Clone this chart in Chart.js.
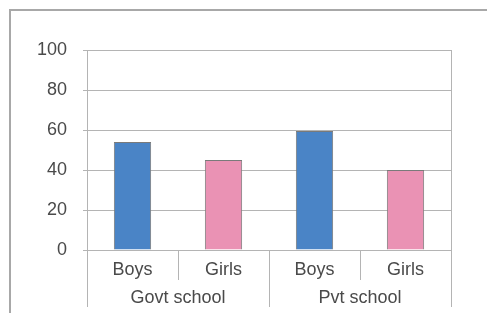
<!DOCTYPE html>
<html lang="en">
<head>
<meta charset="UTF-8">
<title>Boys and Girls by school</title>
<script src="https://cdn.jsdelivr.net/npm/chart.js"></script>
<style>
  html, body { margin: 0; padding: 0; background: #fff; }
  #wrap { position: relative; width: 487px; height: 313px; }
  #frame {
    position: absolute; left: 9px; top: 9px; width: 500px; height: 320px;
    border-left: 2px solid #a8a8a8; border-top: 2px solid #a8a8a8;
  }
  canvas { position: absolute; left: 0; top: 0; }
</style>
</head>
<body>
<div id="wrap">
  <div id="frame"></div>
  <canvas id="chart" width="487" height="313"></canvas>
</div>
<script>
// data
const categories = ['Boys', 'Girls', 'Boys', 'Girls'];
const groups = ['Govt school', 'Pvt school'];
const values = [54, 45, 59.5, 40];
const barColors = ['#4a84c6', '#ea92b4', '#4a84c6', '#ea92b4'];
const yTicks = [0, 20, 40, 60, 80, 100];

const lineColor = '#b4b4b4';
const textColor = '#4a4a4a';
const fontFamily = '"Liberation Sans", Arial, sans-serif';

// draws the right edge, category separators and the group row
const groupAxis = {
  id: 'groupAxis',
  afterDraw(chart) {
    const ctx = chart.ctx;
    const area = chart.chartArea;
    const x = chart.scales.x;
    const half = (x.getPixelForValue(1) - x.getPixelForValue(0)) / 2;
    const per = categories.length / groups.length;
    ctx.save();
    ctx.strokeStyle = lineColor;
    ctx.lineWidth = 1;
    ctx.beginPath();
    ctx.moveTo(Math.round(area.right) + 0.5, area.top);
    ctx.lineTo(Math.round(area.right) + 0.5, area.bottom);
    for (let i = 0; i <= categories.length; i++) {
      const px = Math.round(x.getPixelForValue(i) - half) + 0.5;
      const len = i % per === 0 ? 57 : 30;
      ctx.moveTo(px, area.bottom);
      ctx.lineTo(px, area.bottom + len);
    }
    ctx.stroke();
    ctx.fillStyle = textColor;
    ctx.font = '18px ' + fontFamily;
    ctx.textAlign = 'center';
    ctx.textBaseline = 'middle';
    groups.forEach((g, gi) => {
      const a = x.getPixelForValue(gi * per) - half;
      const b = x.getPixelForValue(gi * per + per - 1) + half;
      ctx.fillText(g, (a + b) / 2, area.bottom + 48);
    });
    ctx.restore();
  }
};

new Chart(document.getElementById('chart'), {
  type: 'bar',
  data: {
    labels: categories,
    datasets: [{
      data: values,
      backgroundColor: barColors,
      borderColor: '#7a7a7a',
      borderWidth: 1,
      barPercentage: 0.41,
      categoryPercentage: 1
    }]
  },
  options: {
    responsive: false,
    animation: false,
    layout: { padding: { left: 12, right: 36, top: 50, bottom: 0 } },
    plugins: { legend: { display: false }, tooltip: { enabled: false } },
    scales: {
      x: {
        grid: { display: false, drawTicks: false },
        border: { display: false },
        ticks: { color: textColor, font: { family: fontFamily, size: 18 }, padding: 9 },
        afterFit(scale) { scale.height = 63; }
      },
      y: {
        min: 0,
        max: 100,
        afterBuildTicks(scale) { scale.ticks = yTicks.map(v => ({ value: v })); },
        grid: { color: lineColor, tickLength: 4 },
        border: { color: lineColor },
        ticks: { color: textColor, font: { family: fontFamily, size: 18 }, padding: 16 },
        afterFit(scale) { scale.width = 75; }
      }
    }
  },
  plugins: [groupAxis]
});
</script>
</body>
</html>
